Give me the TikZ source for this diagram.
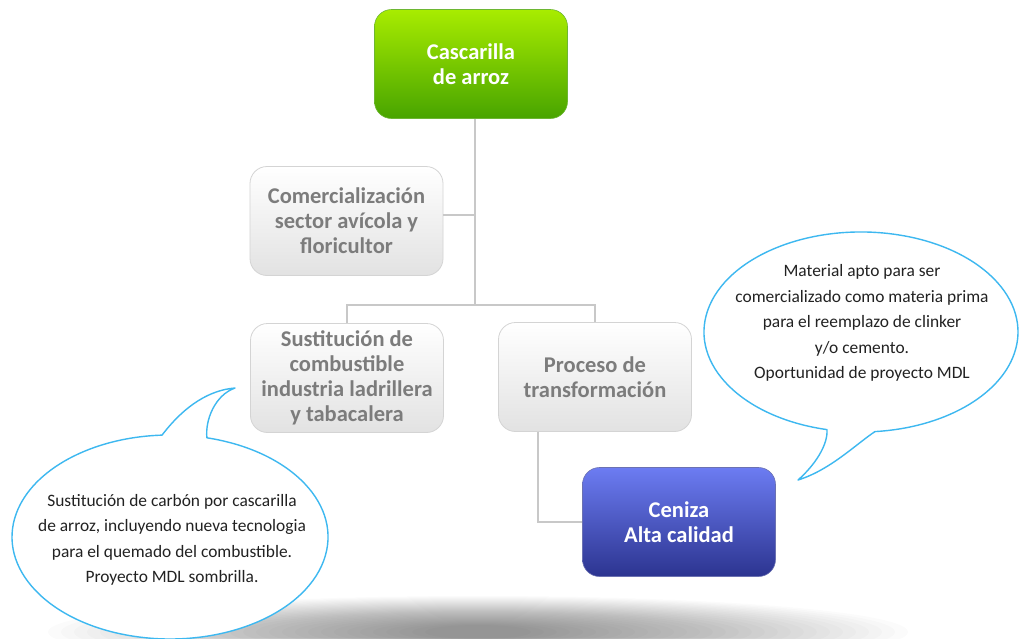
\documentclass[tikz,border=0pt]{standalone}
\usepackage{fontspec}
\setmainfont{Carlito}
\definecolor{boxline}{HTML}{D4D4D4}
\definecolor{boxbot}{HTML}{E2E2E2}
\definecolor{boxtext}{HTML}{7C7C7C}
\definecolor{conncol}{HTML}{C8C8C8}
\definecolor{greentop}{HTML}{A8EC00}
\definecolor{greenbot}{HTML}{48A400}
\definecolor{bluetop}{HTML}{6C7CF2}
\definecolor{bluebot}{HTML}{2C3490}
\definecolor{bubble}{HTML}{3DB8F0}
\definecolor{bubtext}{HTML}{222222}
\begin{document}
\begin{tikzpicture}[x=1pt,y=-1pt,
  box/.style={rounded corners=17pt, minimum width=193pt, minimum height=109pt,
    inner sep=0pt, align=center,
    font=\bfseries\fontsize{22.5}{25}\selectfont},
  graybox/.style={box, draw=boxline, line width=0.8pt, top color=white, bottom color=boxbot, text=boxtext},
  greenbox/.style={box, draw=greenbot!80!white, line width=0.6pt, top color=greentop, bottom color=greenbot, text=white},
  bluebox/.style={box, draw=bluebot!70!white, line width=0.6pt, top color=bluetop, bottom color=bluebot, text=white},
  conn/.style={draw=conncol, line width=1.8pt},
  bubbleline/.style={draw=bubble, fill=white, line width=1.4pt, line join=round},
  bubbletext/.style={align=center, text=bubtext, font=\fontsize{17.4}{25.5}\selectfont},
  floorshade/.style={fill=black, opacity=0.016}
]
\useasboundingbox (0,0) rectangle (1019,638);
\fill[white] (0,0) rectangle (1019,638);

% floor shadow
\foreach \i in {0,...,29}
  \fill[floorshade] (478,632) ellipse [x radius={430-13*\i}, y radius={36-1*\i}];

\coordinate (j1) at (475,215);
\coordinate (j2) at (475,305);
\coordinate (pc) at (538,518);

% nodes
\node[greenbox] (green) at (471,64) {Cascarilla\\de arroz};
\node[graybox] (comer) at (346.5,221) {Comercialización\\sector avícola y\\floricultor};
\node[graybox] (sust) at (347,378) {Sustitución de\\combustible\\industria ladrillera\\y tabacalera};
\node[graybox] (proc) at (595,377) {Proceso de\\transformación};
\node[bluebox] (cen) at (679,522) {Ceniza\\Alta calidad};

% connectors
\draw[conn] (green.south -| j1) -- (j2);
\draw[conn] (j1) -- (j1 -| comer.east);
\draw[conn] (sust.north) |- (j2) -| (proc.north);
\draw[conn] (proc.south -| pc) |- (cen.west);

% left speech bubble
\draw[bubbleline] (206.9,437.8)
  arc[start angle=-76.5, end angle=267.1, x radius=158, y radius=102]
  .. controls (185,405) and (210,390) .. (235,388)
  .. controls (215,395) and (205,420) .. (206.9,437.8) -- cycle;
\node[bubbletext] (ltext) at (172,540) {Sustitución de carbón por cascarilla\\de arroz, incluyendo nueva tecnologia\\para el quemado del combustible.\\Proyecto MDL sombrilla.};

% right speech bubble
\draw[bubbleline] (827,429.6)
  arc[start angle=102.5, end angle=444.9, x radius=157, y radius=100]
  .. controls (855,445) and (830,470) .. (798,480)
  .. controls (815,465) and (828,445) .. (827,429.6) -- cycle;
\node[bubbletext] (rtext) at (862,323) {Material apto para ser\\comercializado como materia prima\\para el reemplazo de clinker\\y/o cemento.\\Oportunidad de proyecto MDL};
\end{tikzpicture}
\end{document}
